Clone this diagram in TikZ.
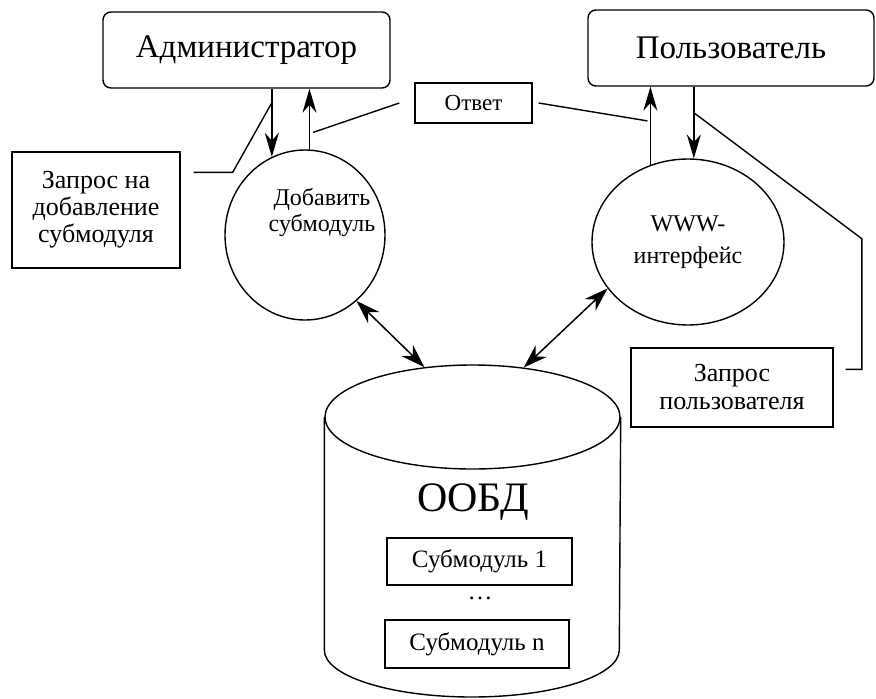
\documentclass[tikz,border=0pt]{standalone}
\usepackage{fontspec}
\setmainfont{Liberation Serif}
\usepackage{tikz}
\usetikzlibrary{calc,arrows.meta,positioning,shapes.geometric}
\newcommand\fbig{\fontsize{33}{36}\selectfont}
\newcommand\fmid{\fontsize{25}{27}\selectfont}
\tikzset{
  actor/.style={draw,line width=1.4pt,rounded corners=8pt,minimum width=287pt,minimum height=76pt,font=\fbig},
  note/.style={draw,line width=1.4pt,align=center,inner sep=0pt,font=\fmid},
  proc/.style={ellipse,draw,line width=1.4pt,inner sep=0pt,align=center,font=\fmid},
  ar/.style={-{Stealth[length=24pt,width=14pt]},line width=1.6pt},
  dar/.style={{Stealth[length=24pt,width=16pt]}-{Stealth[length=24pt,width=16pt]},line width=1.5pt},
  ln/.style={line width=1.4pt}
}
\begin{document}
\begin{tikzpicture}[x=1pt,y=-1pt]
\useasboundingbox (0,0) rectangle (876,699);
\node[actor] (adm) at (246.5,50) {Администратор};
\node[actor,minimum width=286pt] (usr) at (731,48) {Пользователь};
\node[note,minimum width=168pt,minimum height=116pt,font=\fontsize{26}{27}\selectfont] (req) at (96,210) {Запрос на\\добавление\\субмодуля};
\node[note,minimum width=117pt,minimum height=40pt,font=\fontsize{23}{25}\selectfont] (otv) at (473.5,103) {Ответ};
\node[proc,minimum width=160pt,minimum height=170pt] (add) at (305,235) {};
\node[font=\fontsize{24}{26}\selectfont,align=center] (addtxt) at (322,212) {Добавить\\субмодуль};
\node[proc,minimum width=192pt,minimum height=166pt,font=\fontsize{24}{32}\selectfont] (www) at (688,242) {WWW-\\интерфейс};
\node[note,minimum width=202pt,minimum height=79pt,font=\fontsize{26}{28}\selectfont] (ureq) at (732,387.5) {Запрос\\пользователя};
% database
\node[ellipse,draw,line width=1.4pt,minimum width=295pt,minimum height=104pt] (dbtop) at (472.5,417) {};
\draw[line width=1.4pt] (dbtop.west) -- ++(0,233) arc[start angle=180,end angle=0,x radius=147.5,y radius=47] -- (dbtop.east);
\node[font=\fontsize{42}{44}\selectfont] (oobd) at (473,502) {ООБД};
\node[note,minimum width=185pt,minimum height=47pt] (sub1) at (479.5,561.5) {Субмодуль 1};
\node[font=\fmid] (dots) at (480,598) {\dots};
\node[note,minimum width=184pt,minimum height=48pt] (subn) at (477,644) {Субмодуль n};
% flows
\draw[ar] (adm.south -| add.113) -- (add.113);
\draw[ar] (add.87) -- (add.87 |- adm.south);
\draw[ar] (www.116) -- (www.116 |- usr.south);
\draw[ar] (www.86 |- usr.south) -- (www.86);
\draw[dar] (add.-52) -- (dbtop.134);
\draw[dar] (www.210) -- (dbtop.44);
% label lines
\draw[ln] ([shift={(13,21)}]req.north east) -- ++(39,0) -- ($(adm.south -| add.113)+(0,14)$);
\draw[ln] ([xshift=-15pt]otv.west) -- ($(add.87)+(3.5,-17)$);
\draw[ln] ([xshift=6pt]otv.east) -- ($(www.116)+(-3,-44)$);
\draw[ln] ($(www.86 |- usr.south)+(0,26)$) -- ++(168,126) |- ([shift={(12,22)}]ureq.north east);
\end{tikzpicture}
\end{document}
